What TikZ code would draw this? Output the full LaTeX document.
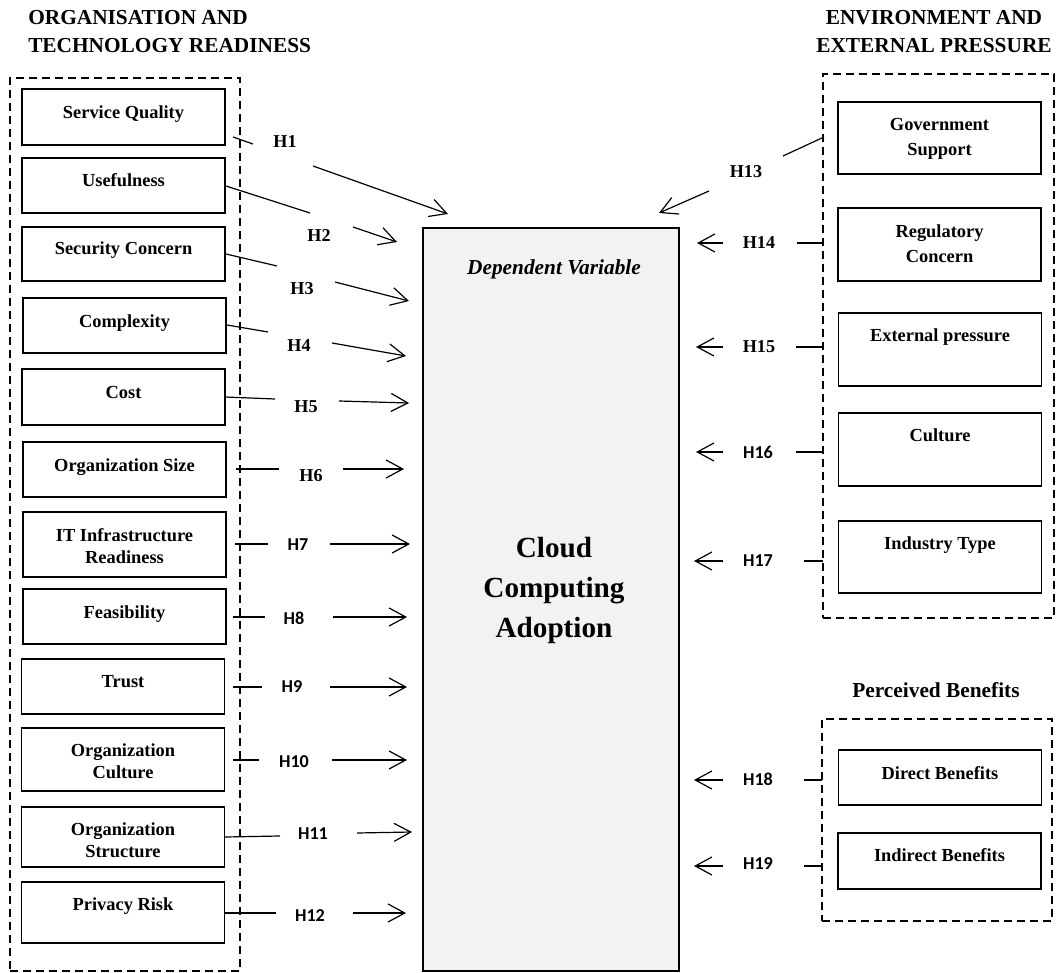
\documentclass[tikz,border=0pt]{standalone}
\usepackage{fontspec}
\setmainfont{Liberation Serif}
\newfontfamily\hsans{Carlito}
\usetikzlibrary{arrows.meta}
\tikzset{
 frame/.style={draw, line width=1.3pt, dash pattern=on 6pt off 3.75pt, inner sep=0pt},
 fw/.style={minimum width=#1*0.75pt},
 bh/.style={minimum height=#1*0.75pt},
 vbox/.style={draw, line width=0.9pt, minimum width=152.25pt, inner sep=0pt},
 btxt/.style={font=\fontsize{13.8}{16.5}\selectfont\bfseries, align=center, inner sep=0pt},
 rtxt/.style={font=\fontsize{13.8}{18.75}\selectfont\bfseries, align=center, inner sep=0pt},
 one/.style={text depth=0pt},
 hser/.style={font=\fontsize{13.6}{16}\selectfont\bfseries, inner sep=0pt, text depth=0pt},
 hsan/.style={font=\hsans\fontsize{13.6}{16}\selectfont\bfseries, inner sep=0pt, text depth=0pt},
 link/.style={line width=0.9pt},
 arr/.style={line width=0.9pt, -{Straight Barb[length=12.5pt,width=13.5pt]}},
 ttl/.style={font=\fontsize{16}{21}\selectfont\bfseries, inner sep=0pt},
}
\begin{document}
\begin{tikzpicture}[x=0.75pt,y=-0.75pt]
\useasboundingbox (0,0) rectangle (1056,973);

% titles
\node[ttl, align=left, anchor=north west] (tL) at (28,10.5) {ORGANISATION AND\\TECHNOLOGY READINESS};
\node[ttl, align=center, anchor=north] (tR) at (934,10.5) {ENVIRONMENT AND\\EXTERNAL PRESSURE};
\node[ttl, one] (tP) at (936,690) {Perceived Benefits};

% group frames
\node[frame, fw=230, bh=893] (gL) at (125,524.5) {};
\node[frame, fw=231, bh=544] (gR) at (938.5,346) {};
\node[frame, fw=230, bh=202] (gP) at (937,820) {};

% central box
\node[draw, line width=1.8pt, fill=gray!10, fw=256, bh=743, inner sep=0pt] (cca) at (551,599.5) {};
\node[font=\fontsize{16}{20}\selectfont\bfseries\itshape, inner sep=0pt, text depth=0pt] (dv) at (554,267) {Dependent Variable};
\node[font=\fontsize{21.9}{30}\selectfont\bfseries, align=center, inner sep=0pt] (ccat) at (554,590) {Cloud\\Computing\\Adoption};

% left boxes
\node[vbox, bh=56] (sq)  at (123.5,117)   {};
\node[vbox, bh=55] (us)  at (123.5,185.5) {};
\node[vbox, bh=54] (sc)  at (123.5,254)   {};
\node[vbox, bh=55] (cx)  at (124.5,325.5) {};
\node[vbox, bh=56] (co)  at (123.5,397)   {};
\node[vbox, bh=55] (os)  at (124.5,469.5) {};
\node[vbox, bh=65] (it)  at (124.5,544.5) {};
\node[vbox, bh=55] (fe)  at (124.5,616.5) {};
\node[vbox, bh=55] (tr)  at (123,686.5)   {};
\node[vbox, bh=63] (oc)  at (123,759.5)   {};
\node[vbox, bh=60] (ost) at (123,837)     {};
\node[vbox, bh=61] (pr)  at (123,912.5)   {};

\node[btxt, one] (sqt) at (123.5,112) {Service Quality};
\node[btxt, one] (ust) at (123.5,180) {Usefulness};
\node[btxt, one] (sct) at (123.5,248) {Security Concern};
\node[btxt, one] (cxt) at (124.5,321) {Complexity};
\node[btxt, one] (cot) at (123.5,392) {Cost};
\node[btxt, one] (ost1) at (124.5,465) {Organization Size};
\node[btxt] (itt) at (124.5,546) {IT Infrastructure\\Readiness};
\node[btxt, one] (fet) at (124.5,612) {Feasibility};
\node[btxt, one] (trt) at (123,681) {Trust};
\node[btxt] (oct) at (123,761) {Organization\\Culture};
\node[btxt] (ostt) at (123,840) {Organization\\Structure};
\node[btxt, one] (prt) at (123,904) {Privacy Risk};

% right boxes
\node[vbox, bh=72] (gs) at (939.5,138)   {};
\node[vbox, bh=73] (rc) at (939.5,244.5) {};
\node[vbox, bh=73] (ep) at (940,349.5)   {};
\node[vbox, bh=73] (cu) at (940,449.5)   {};
\node[vbox, bh=72] (ity) at (940,557)    {};
\node[vbox, bh=55] (db) at (940,777.5)   {};
\node[vbox, bh=56] (ib) at (939.5,861)   {};

\node[rtxt] (gst) at (939.5,138.5) {Government\\Support};
\node[rtxt] (rct) at (939.5,243.5) {Regulatory\\Concern};
\node[rtxt, one] (ept) at (940,335) {External pressure};
\node[rtxt, one] (cut) at (940,435) {Culture};
\node[rtxt, one] (ityt) at (940,543) {Industry Type};
\node[rtxt, one] (dbt) at (940,773) {Direct Benefits};
\node[rtxt, one] (ibt) at (939.5,855) {Indirect Benefits};

% hypothesis labels
\node[hser] (h1) at (285,142) {H1};
\node[hser] (h2) at (319,235) {H2};
\node[hser] (h3) at (302,288) {H3};
\node[hser] (h4) at (299,346) {H4};
\node[hser] (h5) at (306,407) {H5};
\node[hser] (h6) at (311,475) {H6};
\node[hsan] (h7) at (298,545) {H7};
\node[hsan] (h8) at (294,618) {H8};
\node[hsan] (h9) at (292,687) {H9};
\node[hsan] (h10) at (294,762) {H10};
\node[hsan] (h11) at (313,834) {H11};
\node[hsan] (h12) at (310,916) {H12};
\node[hser] (h13) at (746,171) {H13};
\node[hser] (h14) at (759,243) {H14};
\node[hser] (h15) at (759,347) {H15};
\node[hsan] (h16) at (758,452) {H16};
\node[hsan] (h17) at (758,561) {H17};
\node[hsan] (h18) at (758,779) {H18};
\node[hsan] (h19) at (758,864) {H19};

% connector end points
\coordinate (a1) at (233,137); \coordinate (b1) at (253,144); \coordinate (c1) at (313,166); \coordinate (d1) at (448,214);
\coordinate (a2) at (226,186); \coordinate (b2) at (310,213); \coordinate (c2) at (353,227); \coordinate (d2) at (397,242);
\coordinate (a3) at (226,254); \coordinate (b3) at (277,266); \coordinate (c3) at (335,282); \coordinate (d3) at (409,301);
\coordinate (a4) at (227,325); \coordinate (b4) at (268,332); \coordinate (c4) at (332,343); \coordinate (d4) at (406,356);
\coordinate (a5) at (225,397); \coordinate (b5) at (275,399); \coordinate (c5) at (339,401); \coordinate (d5) at (409,403);
\coordinate (a6) at (236,469); \coordinate (b6) at (279,469); \coordinate (c6) at (343,469); \coordinate (d6) at (404,469);
\coordinate (a7) at (235,544); \coordinate (b7) at (268,544); \coordinate (c7) at (330,544); \coordinate (d7) at (410,544);
\coordinate (a8) at (233,617); \coordinate (b8) at (265,617); \coordinate (c8) at (333,617); \coordinate (d8) at (407,617);
\coordinate (a9) at (233,687); \coordinate (b9) at (262,687); \coordinate (c9) at (330,687); \coordinate (d9) at (407,687);
\coordinate (a10) at (233,760); \coordinate (b10) at (259,760); \coordinate (c10) at (332,760); \coordinate (d10) at (407,760);
\coordinate (a11) at (225,837); \coordinate (b11) at (280,836); \coordinate (c11) at (357,833); \coordinate (d11) at (412,832);
\coordinate (a12) at (225,913); \coordinate (b12) at (276,913); \coordinate (c12) at (353,913); \coordinate (d12) at (406,913);

\coordinate (a13) at (824,137); \coordinate (b13) at (783,156); \coordinate (c13) at (709,191); \coordinate (d13) at (659,213);
\coordinate (a14) at (824,243); \coordinate (b14) at (797,243); \coordinate (c14) at (723,243); \coordinate (d14) at (697,243);
\coordinate (a15) at (823,347); \coordinate (b15) at (796,347); \coordinate (c15) at (723,347); \coordinate (d15) at (696,347);
\coordinate (a16) at (823,452); \coordinate (b16) at (796,452); \coordinate (c16) at (723,452); \coordinate (d16) at (696,452);
\coordinate (a17) at (823,561); \coordinate (b17) at (804,561); \coordinate (c17) at (723,561); \coordinate (d17) at (694,561);
\coordinate (a18) at (822,780); \coordinate (b18) at (804,780); \coordinate (c18) at (723,780); \coordinate (d18) at (694,780);
\coordinate (a19) at (822,866); \coordinate (b19) at (804,866); \coordinate (c19) at (723,866); \coordinate (d19) at (694,866);

\foreach \i in {1,...,19}{
  \draw[link] (a\i) -- (b\i);
  \draw[arr] (c\i) -- (d\i);
}
\end{tikzpicture}
\end{document}
